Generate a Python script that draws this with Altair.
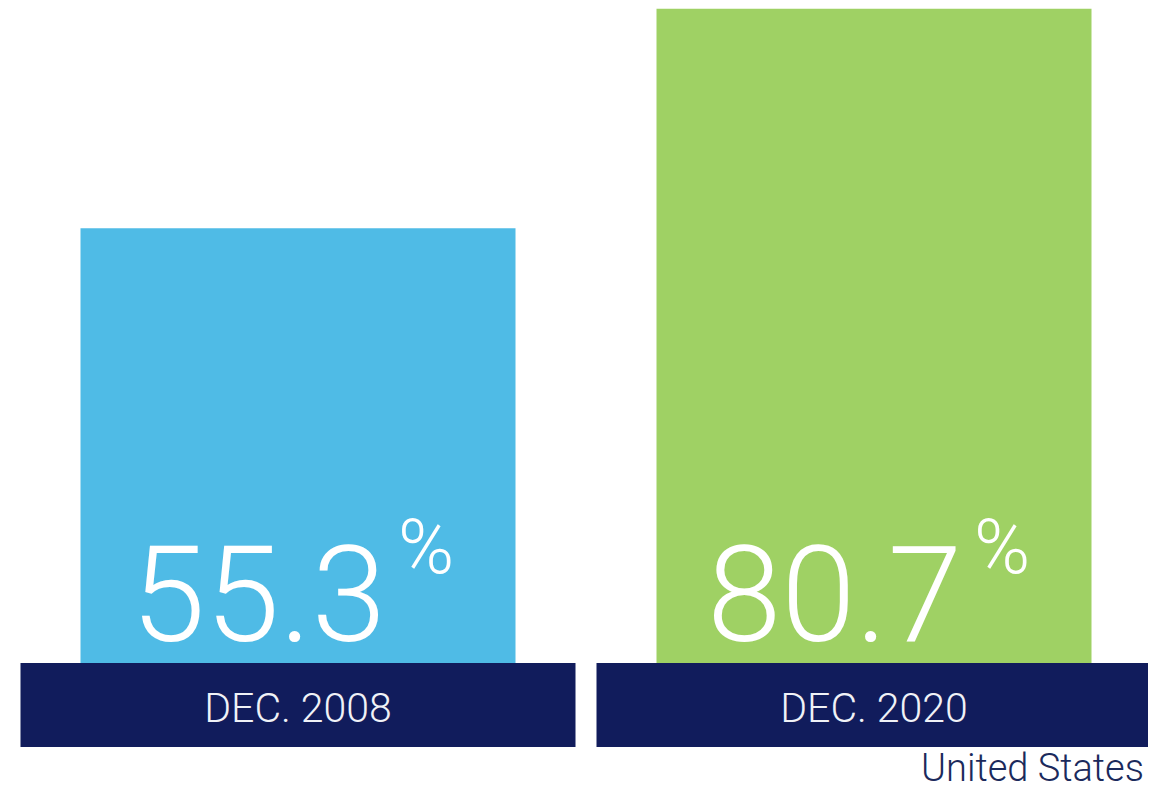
import altair as alt
import pandas as pd

periods = ["DEC. 2008", "DEC. 2020"]
shares = [55.3, 80.7]
bar_colors = ["#4fbbe6", "#9fd164"]
unit = "%"
region = "United States"

df = pd.DataFrame({
    "period": periods,
    "share": shares,
    "label": [f"{v:.1f}" for v in shares],
    "unit": [unit] * len(shares),
})

NAVY = "#111c5c"
BIG_FONT = "Roboto, Liberation Sans, sans-serif"
LABEL_FONT = "Roboto, Open Sans, sans-serif"

base = alt.Chart(df).encode(
    x=alt.X("period:N", sort=periods, axis=None,
            scale=alt.Scale(range=[2, 1154], paddingInner=0, paddingOuter=0))
)

bars = base.mark_bar(size=435).encode(
    y=alt.Y("share:Q", axis=None, scale=alt.Scale(domain=[5, 80.8], range=[655, 0])),
    y2=alt.value(655),
    color=alt.Color("period:N", scale=alt.Scale(domain=periods, range=bar_colors), legend=None),
)

boxes = base.mark_bar(size=555, color=NAVY).encode(
    y=alt.value(655), y2=alt.value(739)
)

period_text = base.mark_text(
    font=LABEL_FONT, fontWeight=300, fontSize=41, color="#f0f2f7", baseline="alphabetic"
).encode(y=alt.value(714), text="period:N")

numbers = base.mark_text(
    font=BIG_FONT, fontWeight=300, fontSize=134, color="white", align="right", dx=88,
    baseline="alphabetic"
).encode(y=alt.value(633), text="label:N")

pct = base.mark_text(
    font=BIG_FONT, fontWeight=300, fontSize=76, color="white", align="left", dx=100,
    baseline="top"
).encode(y=alt.value(505), text="unit:N")

country = alt.Chart(pd.DataFrame({"t": [region]})).mark_text(
    font=LABEL_FONT, fontWeight=300, fontSize=38, color="#1b2a5c", align="right",
    baseline="alphabetic"
).encode(x=alt.value(1136), y=alt.value(773), text="t:N")

chart = alt.layer(bars, boxes, period_text, numbers, pct, country).properties(
    width=1140, height=782, padding=0,
    autosize=alt.AutoSizeParams(type="none"),
).configure_view(strokeWidth=0)

chart.save("out.html", embed_options={"renderer": "svg", "actions": False})
